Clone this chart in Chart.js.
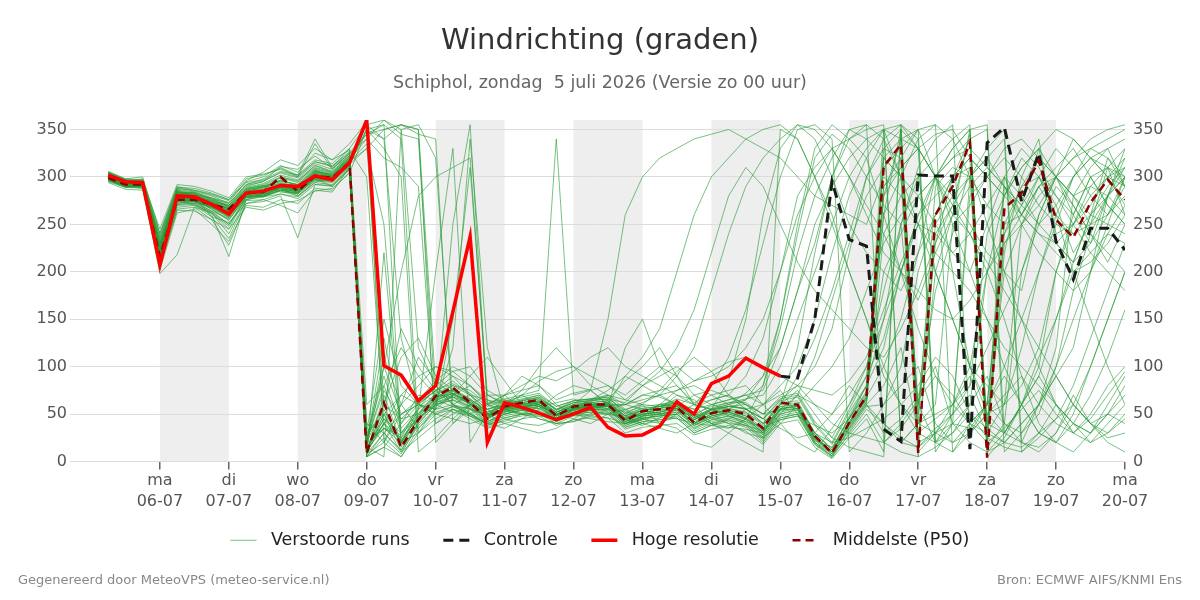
<!DOCTYPE html>
<html>
<head>
<meta charset="utf-8">
<title>Windrichting (graden)</title>
<script src="https://cdn.jsdelivr.net/npm/chart.js@4.4.0/dist/chart.umd.min.js"></script>
<style>
  html, body { margin: 0; padding: 0; background: #fff; }
  #wrap { position: relative; width: 1200px; height: 600px; }
  .voet { position: absolute; top: 572px; font: 13px "DejaVu Sans", sans-serif; color: #888; }
</style>
</head>
<body>
<div id="wrap">
  <canvas id="grafiek" width="1200" height="600"></canvas>
  <div class="voet" style="left:18px">Gegenereerd door MeteoVPS (meteo-service.nl)</div>
  <div class="voet" style="right:18px">Bron: ECMWF AIFS/KNMI Ens</div>
</div>
<script>
'use strict';

// tijdas: uren na zo 05-07 00:00, elke 6 uur een waarde
var eersteUur = 6,
    stapUren = 6;

var dagUren = [24, 48, 72, 96, 120, 144, 168, 192, 216, 240, 264, 288, 312, 336, 360];
var dagNamen = ['ma', 'di', 'wo', 'do', 'vr', 'za', 'zo', 'ma', 'di', 'wo', 'do', 'vr', 'za', 'zo', 'ma'];
var dagDatums = ['06-07', '07-07', '08-07', '09-07', '10-07', '11-07', '12-07', '13-07',
                 '14-07', '15-07', '16-07', '17-07', '18-07', '19-07', '20-07'];
var grijzeDagen = [24, 72, 120, 168, 216, 264, 312];
var yTicks = [0, 50, 100, 150, 200, 250, 300, 350];

var hogeResolutie = [302, 295, 294, 207, 280, 279, 271, 261, 283, 285, 291, 290, 301, 297, 315,
                     360, 101, 91, 64, 80, 158, 237, 20, 62, 57, 51, 44, 50, 57, 36,
                     27, 28, 37, 63, 50, 82, 90, 109, 99, 90];

var controleVanaf = 39;
var controle = [90, 88, 150, 295, 234, 227, 34, 21, 302, 301, 301, 13, 336, 352, 274,
                325, 232, 192, 246, 246, 223];

var middelste = [299, 292, 292, 216, 276, 276, 271, 266, 283, 284, 300, 285, 301, 299, 315,
                 9, 62, 15, 44, 69, 78, 62, 45, 58, 62, 65, 48, 58, 60, 60,
                 43, 53, 55, 57, 41, 51, 54, 50, 35, 62, 60, 27, 9, 41, 69,
                 311, 334, 9, 260, 290, 336, 4, 267, 283, 317, 255, 236, 273, 297, 276];

var verstoordeRuns = [
  [301,294,292,222,281,279,272,263,284,287,293,289,304,300,317, 15,40,22,48,66,75,60,47,56,60,63,50,57,59,61,
   45,50,52,58,44,55,60,72,90,120,180,230,300,340,355, 20,35,60,250,280,300,320,290,260,240,230,250,270,300,290],
  [298,290,291,215,275,274,268,258,280,282,288,284,300,298,314, 350,355,340,30,58,70,64,50,55,58,62,52,60,62,58,
   40,48,50,55,40,48,52,45,30,55,58,22,15,45,70, 350,300,60,180,240,310,40,200,250,290,300,260,230,280,310],
  [304,296,295,228,284,283,276,268,288,292,300,296,310,305,322, 20,110,60,35,55,150,310,70,60,65,70,55,62,65,68,
   50,60,58,62,48,60,65,70,60,80,100,150,220,280,320, 350,340,330,10,40,60,200,240,270,300,330,310,280,260,300],
  [296,289,290,210,270,271,262,245,278,280,286,282,298,296,312, 5,25,8,40,60,65,55,40,50,55,58,44,52,55,55,
   38,45,48,50,35,44,48,40,25,50,55,20,5,35,60, 80,120,30,45,60,90,40,30,60,110,150,200,220,240,230],
  [302,295,294,232,286,280,275,270,290,295,305,300,335,308,325, 340,360,350,120,80,60,55,50,52,57,60,48,55,58,60,
   42,50,52,56,42,50,55,52,40,60,90,130,180,240,300, 330,350,10,30,50,280,300,320,300,270,250,240,260,290,310],
  [300,293,292,218,278,276,270,264,282,283,289,286,302,299,316, 335,60,45,50,68,72,62,50,60,64,68,55,64,66,70,
   60,70,75,80,62,70,75,80,60,70,80,60,50,70,100, 150,200,260,300,320,340,350,10,30,60,90,120,200,250,300],
  [297,291,289,212,272,275,266,255,279,281,287,283,299,297,313, 8,50,12,42,62,68,58,42,50,54,56,46,54,56,58,
   40,48,50,54,38,46,50,44,28,52,56,24,8,38,62, 290,320,350,20,10,40,60,230,260,290,260,240,250,280,260],
  [305,297,296,225,283,281,278,270,292,298,310,302,340,310,330, 355,340,130,60,50,58,56,48,54,58,60,50,56,60,62,
   48,54,58,62,46,55,60,65,80,140,220,280,320,350,355, 340,300,250,200,150,100,60,40,30,50,100,180,240,280,320],
  [299,292,293,214,277,277,269,260,281,284,290,285,300,298,314, 10,70,20,50,72,80,70,55,62,66,70,58,64,66,65,
   50,56,58,60,48,55,58,56,40,58,60,30,12,48,80, 120,200,260,280,300,310,250,200,150,100,60,30,20,40,60],
  [303,295,294,235,285,279,274,266,286,290,296,292,308,303,320, 25,90,35,55,200,330,20,52,58,62,66,52,58,60,62,
   44,52,54,58,44,52,58,60,50,66,70,40,20,55,90, 260,300,340,355,10,30,50,60,80,120,200,260,300,310,300],
  [298,291,290,213,271,272,260,216,276,279,285,280,296,294,311, 5,30,10,38,55,60,52,38,46,50,52,42,50,52,52,
   36,42,44,48,32,40,44,38,22,46,50,18,4,30,55, 40,25,15,35,50,70,30,20,40,60,90,60,40,50,70],
  [301,294,293,230,282,280,271,262,284,286,292,288,305,301,318, 18,130,40,60,75,90,80,62,66,70,75,340,70,75,80,
   65,80,90,100,85,90,100,120,150,200,260,300,330,340,350, 355,20,40,60,250,270,300,330,340,320,300,280,260,250,240],
  [300,293,292,219,279,276,270,265,283,285,291,287,303,300,316, 330,350,355,350,80,60,50,42,52,56,60,46,54,56,58,
   40,46,48,52,38,46,52,48,32,56,58,25,10,40,66, 280,340,50,230,300,320,30,240,290,300,270,220,250,310,260],
  [296,290,289,208,268,270,258,235,275,276,282,279,294,292,310, 12,55,18,45,64,72,60,46,54,58,60,48,56,58,58,
   44,50,52,56,40,48,52,46,30,54,56,24,10,42,68, 330,320,25,200,260,350,15,290,270,330,240,250,290,280,300],
  [302,295,294,224,283,281,273,266,285,289,296,292,307,302,320, 40,30,50,65,85,100,90,70,70,75,80,65,72,76,150,
   260,300,320,330,340,345,350,340,330,320,300,280,270,260,250, 300,280,250,220,200,180,150,120,100,80,60,40,30,50,80],
  [299,292,291,217,277,275,269,261,282,284,290,286,301,299,315, 8,20,5,30,50,55,48,36,44,48,50,40,48,50,50,
   34,40,42,46,30,38,42,36,20,44,48,18,6,28,50, 20,10,5,15,30,50,35,20,15,30,60,40,20,30,45],
  [297,291,291,211,273,274,264,250,279,281,288,284,300,297,313, 350,340,355,345,340,40,60,48,56,60,64,50,58,60,62,
   46,54,56,60,44,54,58,56,40,62,64,30,12,46,72, 320,340,350,300,250,200,150,100,60,30,20,50,100,150,200],
  [304,297,296,238,288,285,280,272,292,296,304,299,314,308,326, 60,80,120,90,70,68,62,50,56,62,64,52,58,60,62,
   48,54,56,60,46,54,58,55,45,64,68,38,18,52,80, 200,240,280,300,330,350,355,30,60,100,200,250,280,300,320],
  [298,291,290,216,276,274,268,258,281,283,289,285,300,298,314, 15,40,25,45,60,120,340,120,52,56,58,46,54,56,58,
   120,150,100,80,60,55,50,45,35,55,60,28,10,40,66, 280,310,330,345,350,320,300,280,260,240,220,200,210,230,260],
  [300,293,292,221,280,277,272,267,284,285,292,288,304,300,317, 25,100,50,60,75,82,72,58,64,68,72,58,64,66,68,
   52,58,60,64,50,58,62,62,50,68,72,42,25,60,100, 180,250,300,320,340,355,10,20,40,60,100,150,200,280,330],
  [301,294,293,226,282,280,274,267,286,290,297,291,306,302,319, 20,35,28,50,66,74,64,50,56,60,64,52,60,62,64,
   48,56,58,60,46,56,62,66,70,100,150,200,250,300,330, 350,20,40,50,60,80,240,280,310,330,300,270,240,220,200],
  [295,289,288,205,266,268,255,228,272,274,280,236,292,290,308, 5,15,5,35,52,58,50,38,46,50,52,42,50,52,50,
   36,42,44,46,30,38,44,38,24,46,50,20,8,32,58, 60,80,100,40,20,30,50,70,90,60,40,30,50,80,100],
  [303,296,295,229,285,282,276,269,289,293,302,297,312,306,323, 345,355,20,55,68,76,66,52,58,62,66,54,60,62,64,
   46,54,56,58,44,52,56,52,38,60,62,30,14,46,74, 260,350,40,290,310,300,20,220,300,340,230,210,260,320,290],
  [299,292,292,218,277,276,270,263,283,284,290,286,302,299,315, 10,60,15,46,68,76,62,46,56,60,62,48,56,58,60,
   90,110,140,200,260,300,320,340,350,355,340,300,250,200,150, 100,60,40,30,20,40,60,100,150,200,250,300,320,330,340],
  [300,293,292,220,279,277,271,265,283,285,291,287,302,300,316, 12,50,20,44,64,72,62,48,56,58,62,50,56,58,60,
   44,52,54,56,40,50,54,50,34,58,60,26,10,42,68, 320,300,5,240,270,345,35,300,260,300,280,260,300,270,250],
  [297,290,290,198,218,268,262,248,278,280,286,282,298,296,312, 30,150,80,60,55,250,355,60,50,54,58,46,52,54,56,
   40,46,48,50,36,44,48,42,28,50,54,22,8,36,62, 240,280,300,200,150,100,80,60,250,280,300,320,330,340,350],
  [302,294,294,227,284,282,275,268,287,291,299,294,309,304,321, 22,80,30,52,68,76,66,52,60,64,68,54,62,64,66,
   54,62,70,90,120,180,240,290,320,340,355,350,330,300,260, 220,200,180,160,150,170,200,230,250,270,300,320,340,350,355],
  [298,291,291,214,275,274,267,257,280,282,288,284,299,297,313, 355,360,345,340,60,52,48,40,48,52,54,44,52,54,54,
   38,44,46,50,34,42,46,40,26,48,52,20,6,34,60, 30,45,70,100,40,20,10,30,60,90,60,40,30,60,90],
  [301,293,292,223,281,279,273,266,285,288,294,290,306,301,318, 14,45,22,48,65,72,60,46,54,58,60,48,56,58,60,
   42,50,52,56,40,50,54,48,32,56,58,26,10,40,68, 100,150,220,300,330,350,15,40,200,260,300,280,250,260,290],
  [300,292,292,217,278,276,270,264,282,284,290,286,301,299,315, 8,30,12,40,60,68,56,42,50,54,56,44,52,54,56,
   40,48,50,54,38,48,52,46,30,54,56,24,10,38,64, 290,310,330,300,270,240,210,180,150,120,90,60,40,30,50],
  [306,298,300,240,290,286,282,276,295,300,312,305,325,318,335, 358,20,60,110,85,70,80,65,60,70,85,95,100,90,80,
   70,85,100,90,70,60,55,65,90,150,240,320,345,330,300, 270,250,60,20,40,300,330,350,20,60,120,280,310,330,290],
  [294,287,286,202,262,266,250,232,270,268,276,272,288,286,305, 5,220,20,30,45,55,45,35,40,45,48,38,44,46,46,
   30,36,38,40,28,34,38,32,18,40,44,15,3,25,45, 10,355,340,20,30,60,90,40,20,10,30,70,40,20,10],
  [303,294,297,233,287,284,278,273,296,305,318,312,330,318,328, 300,40,70,90,100,95,80,60,70,80,90,85,95,110,120,
   100,90,80,70,60,65,70,90,130,200,280,310,330,300,270, 240,200,170,220,260,290,310,290,250,220,200,180,200,240,270],
  [299,290,288,226,284,279,258,252,272,276,270,262,286,284,310, 20,60,110,130,90,75,65,55,60,70,60,50,45,40,50,
   55,60,40,35,20,15,30,45,60,40,20,10,35,60,90, 130,200,250,300,280,250,220,200,180,260,300,340,320,300,270],
  [305,298,297,245,292,290,285,278,300,303,308,300,316,312,326, 345,350,355,350,20,40,55,48,60,75,100,120,100,80,70,
   55,45,40,50,60,80,110,160,230,300,350,355,340,10,30, 60,100,200,260,300,320,300,280,310,330,350,340,320,300,310],
  [297,293,292,219,277,270,262,240,276,283,292,290,298,290,308, 40,20,50,60,55,70,90,110,85,60,50,45,60,75,60,
   48,40,55,70,65,50,40,30,25,40,60,80,100,130,180, 230,260,280,250,220,240,270,300,280,250,230,210,230,260,280],
  [301,296,293,216,282,283,277,269,280,279,286,283,305,303,318, 10,40,10,25,40,55,50,60,70,55,45,40,42,50,65,
   85,100,120,90,60,40,30,20,10,350,340,300,260,200,150, 90,60,30,20,50,80,120,160,200,250,290,270,240,210,250],
  [300,292,290,213,279,281,274,259,285,287,300,295,312,305,320, 18,35,25,58,70,80,75,60,65,62,58,50,55,60,58,
   52,48,60,62,55,65,70,60,45,65,80,100,140,220,300, 340,355,330,300,260,240,200,150,90,40,20,10,30,50,40],
  [298,293,295,230,274,276,268,264,288,291,284,283,296,296,313, 330,250,30,45,60,65,58,45,55,60,62,48,55,57,59,
   60,70,68,60,50,40,45,55,60,75,50,30,20,25,35, 45,60,80,110,90,50,25,15,10,25,45,80,130,180,230],
  [302,291,292,221,286,283,270,258,283,282,288,280,294,302,317, 12,45,30,55,80,95,100,75,65,58,50,45,55,65,75,
   90,80,70,60,55,60,65,70,75,120,180,250,290,320,340, 350,355,20,30,40,35,60,250,290,320,300,280,290,310,330],
  [296,290,291,207,265,264,255,245,268,265,272,275,285,288,304, 350,330,300,10,25,45,60,70,62,55,50,52,58,63,70,
   65,60,75,95,110,95,70,55,45,35,25,30,50,80,60, 40,20,15,30,60,100,200,280,320,300,260,200,150,100,60],
  [304,295,296,236,288,286,281,275,294,297,306,302,318,314,330, 5,15,40,70,65,58,50,40,35,45,55,70,80,75,60,
   45,40,35,30,40,55,85,150,260,330,355,340,300,250,220, 200,180,220,260,300,340,5,25,60,90,150,210,260,280,300],
  [300,297,294,224,281,276,273,270,287,289,293,291,303,297,315, 25,60,140,100,75,60,48,40,42,50,58,62,66,60,52,
   44,38,46,58,70,75,68,60,50,55,70,60,40,30,25, 20,40,65,90,70,40,20,35,55,75,50,30,45,70,95],
  [297,289,290,211,271,273,264,256,279,279,282,277,292,291,309, 15,5,350,355,320,60,70,65,55,50,48,46,52,54,50,
   46,52,60,58,50,46,40,38,32,50,70,110,170,230,280, 310,330,350,355,340,300,270,250,260,290,310,330,300,270,250],
  [303,294,296,229,283,284,277,272,291,295,311,308,322,309,322, 22,75,45,62,74,85,70,55,60,64,67,55,62,64,66,
   62,80,95,120,160,220,280,310,290,250,210,180,160,140,120, 110,140,180,230,270,300,320,340,10,30,45,60,40,25,30],
  [299,293,291,219,279,280,272,266,284,290,295,292,301,300,316, 30,50,70,60,50,45,40,45,70,90,80,60,50,45,42,
   40,45,58,66,60,55,48,42,36,44,48,38,30,45,80, 150,250,310,340,355,30,60,90,60,30,20,40,70,110,160],
  [301,292,291,216,277,274,268,260,282,280,286,286,307,300,318, 340,320,310,290,40,50,60,55,45,40,38,44,50,48,46,
   40,44,50,52,48,40,36,34,30,60,120,220,300,350,340, 320,300,280,300,320,330,310,290,270,250,270,300,320,310,290],
  [298,290,290,211,274,272,263,250,276,280,289,287,297,295,312, 12,35,20,45,62,70,60,45,53,57,60,48,55,57,58,
   42,47,60,75,80,70,60,55,45,60,75,50,25,15,10, 5,350,330,300,200,100,50,30,20,15,30,60,100,150,200],
  [305,296,298,241,289,288,283,276,298,302,309,301,316,311,324, 15,100,200,280,300,310,320,60,55,50,45,40,42,48,55,
   60,65,70,75,85,95,105,110,100,90,80,75,70,85,110, 160,210,250,240,220,200,250,300,330,310,280,250,220,200,180],
  [297,292,289,214,276,277,266,254,279,283,290,286,299,298,314, 10,40,60,80,100,90,70,50,40,35,30,35,45,55,60,
   60,55,50,45,40,38,35,45,80,150,250,330,355,340,320, 260,200,140,90,60,40,30,60,120,200,260,300,330,320,300]
];

function reeks(waarden, vanaf) {
    vanaf = vanaf || 0;
    return waarden.map(function (v, i) {
        return {x: eersteUur + (vanaf + i) * stapUren, y: v};
    });
}

// eerste dataset ligt bovenop; rang bepaalt de volgorde in de legenda
var datasets = [
    {label: ' Hoge resolutie   ', rang: 3, data: reeks(hogeResolutie), borderColor: '#ff0000', borderWidth: 3.5},
    {label: ' Middelste (P50)', rang: 4, data: reeks(middelste), borderColor: '#8b0000', borderWidth: 2.5, borderDash: [8, 5]},
    {label: ' Controle   ', rang: 2, data: reeks(controle, controleVanaf), borderColor: '#1a1a1a', borderWidth: 3, borderDash: [10, 6]}
];
verstoordeRuns.forEach(function (run, n) {
    datasets.push({
        label: n === 0 ? ' Verstoorde runs   ' : '',
        rang: 1,
        data: reeks(run),
        borderColor: 'rgba(40,155,55,0.62)',
        borderWidth: 1
    });
});

var dagBanden = {
    id: 'dagBanden',
    beforeDraw: function (chart) {
        var ctx = chart.ctx, area = chart.chartArea, x = chart.scales.x;
        ctx.save();
        ctx.fillStyle = '#eeeeee';
        grijzeDagen.forEach(function (h) {
            var x0 = x.getPixelForValue(h), x1 = x.getPixelForValue(h + 24);
            ctx.fillRect(x0, area.top, x1 - x0, area.bottom - area.top);
        });
        ctx.restore();
    }
};

var yAs = function (positie) {
    return {
        position: positie,
        min: 0,
        max: 360,
        afterBuildTicks: function (scale) {
            scale.ticks = yTicks.map(function (v) { return {value: v}; });
        },
        afterFit: function (scale) {
            scale.width = positie === 'left' ? 70 : 75;
        },
        grid: {display: positie === 'left', color: '#dcdcdc', lineWidth: 1, drawTicks: false},
        border: {display: false},
        ticks: {
            padding: positie === 'left' ? 3 : 8,
            color: '#555',
            font: {family: 'DejaVu Sans', size: 16}
        }
    };
};

new Chart(document.getElementById('grafiek'), {
    type: 'line',
    data: {datasets: datasets},
    plugins: [dagBanden],
    options: {
        responsive: false,
        animation: false,
        devicePixelRatio: 1,
        elements: {point: {radius: 0, hoverRadius: 0}, line: {tension: 0, fill: false}},
        layout: {padding: {left: 0, right: 0, top: 0, bottom: 41}},
        scales: {
            x: {
                type: 'linear',
                min: -7.3,
                max: 360,
                afterBuildTicks: function (scale) {
                    scale.ticks = dagUren.map(function (v) { return {value: v}; });
                },
                afterFit: function (scale) {
                    scale.height = 53;
                },
                grid: {display: true, drawOnChartArea: false, drawTicks: true, tickLength: 8, color: '#666', lineWidth: 1.5},
                border: {display: false},
                ticks: {
                    autoSkip: false,
                    maxRotation: 0,
                    minRotation: 0,
                    padding: 1,
                    color: '#555',
                    font: {family: 'DejaVu Sans', size: 16, lineHeight: 1.3},
                    callback: function (value, i) {
                        return [dagNamen[i], dagDatums[i]];
                    }
                }
            },
            y: yAs('left'),
            y2: yAs('right')
        },
        plugins: {
            title: {
                display: true,
                text: 'Windrichting (graden)',
                color: '#333',
                font: {family: 'DejaVu Sans', size: 29, weight: 'normal'},
                padding: {top: 24, bottom: 13.7}
            },
            subtitle: {
                display: true,
                text: 'Schiphol, zondag  5 juli 2026 (Versie zo 00 uur)',
                color: '#666',
                font: {family: 'DejaVu Sans', size: 17.5},
                padding: {top: 0, bottom: 26.5}
            },
            legend: {
                position: 'bottom',
                labels: {
                    usePointStyle: true,
                    pointStyle: 'line',
                    pointStyleWidth: 26,
                    padding: 17,
                    color: '#222',
                    font: {family: 'DejaVu Sans', size: 17.5},
                    // lijnstijl van de dataset ook in de legenda (streepjes)
                    generateLabels: function (chart) {
                        var items = Chart.defaults.plugins.legend.labels.generateLabels(chart);
                        items.forEach(function (item) {
                            var ds = chart.data.datasets[item.datasetIndex];
                            item.lineDash = ds.borderDash || [];
                            item.lineWidth = ds.borderWidth;
                            item.strokeStyle = ds.borderColor;
                        });
                        return items;
                    },
                    filter: function (item) { return item.text !== ''; },
                    sort: function (a, b, data) {
                        return data.datasets[a.datasetIndex].rang - data.datasets[b.datasetIndex].rang;
                    }
                }
            },
            tooltip: {enabled: false}
        }
    }
});
</script>
</body>
</html>
